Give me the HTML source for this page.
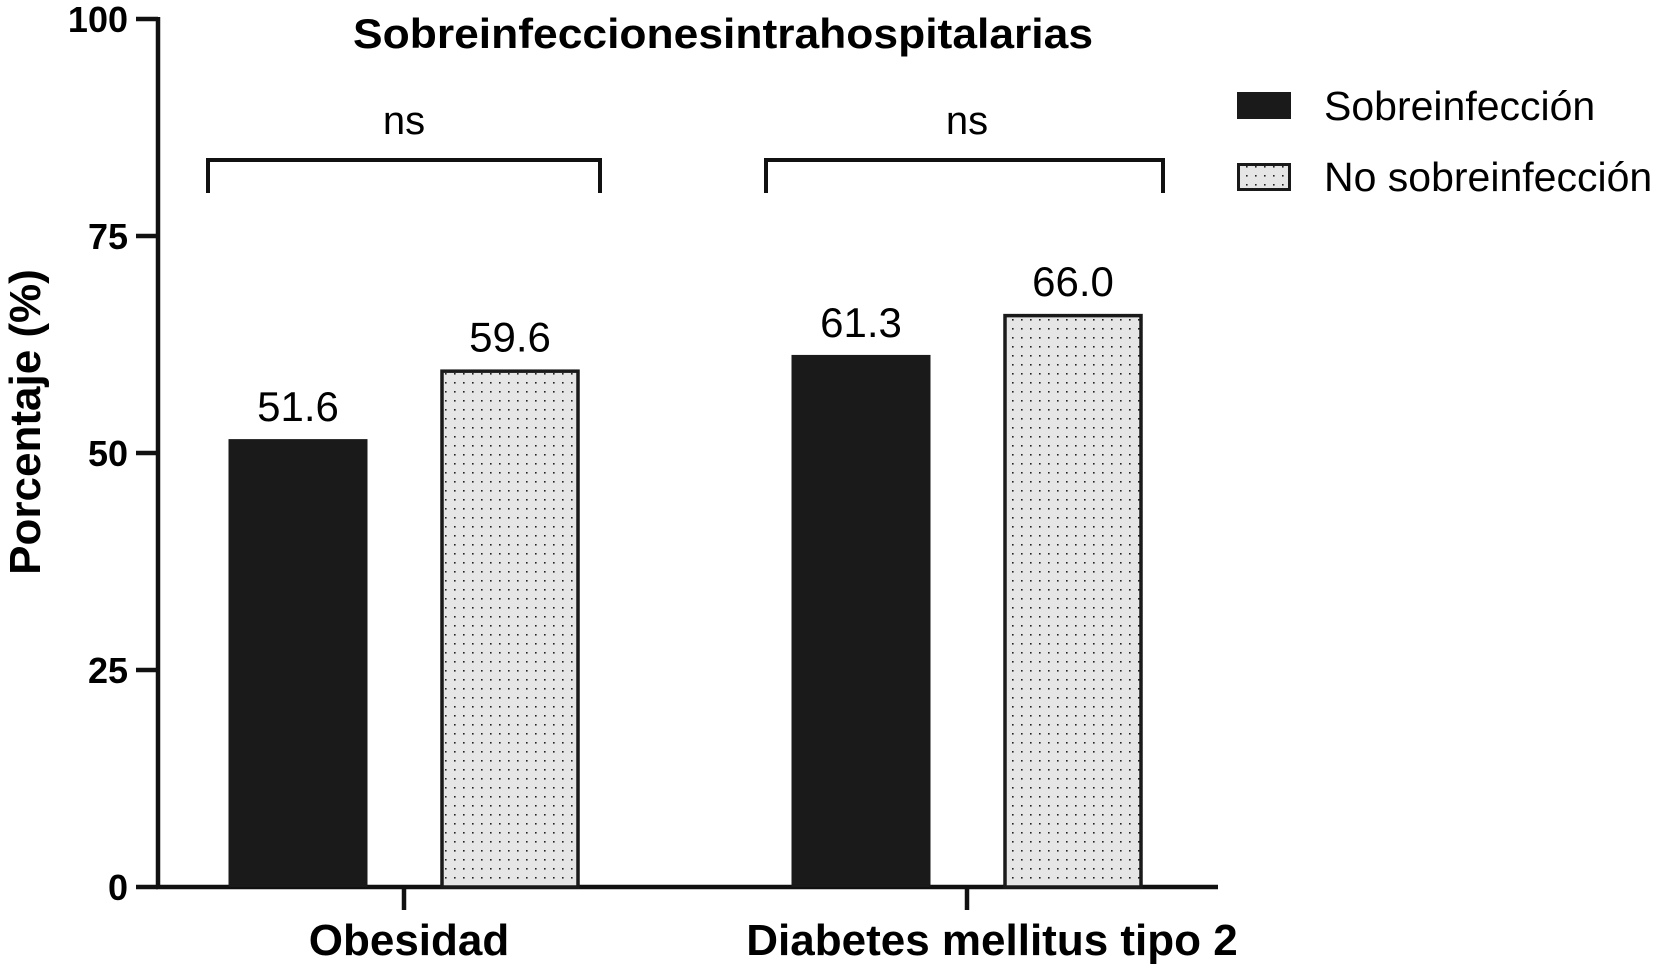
<!DOCTYPE html>
<html><head><meta charset="utf-8"><style>
body{margin:0;background:#fff;}
svg{display:block;font-family:"Liberation Sans",Arial,sans-serif;}
</style></head><body>
<svg id="chart" width="1653" height="964" viewBox="0 0 1653 964">
<defs>
<pattern id="dots" width="9" height="9" patternUnits="userSpaceOnUse">
<rect width="9" height="9" fill="#e6e6e6"/>
<rect x="4" y="4" width="1.6" height="1.6" fill="#222"/>
</pattern>
</defs>
<text x="723" y="48" font-size="42" font-weight="bold" text-anchor="middle" textLength="740" lengthAdjust="spacingAndGlyphs">Sobreinfeccionesintrahospitalarias</text>
<text transform="translate(40,422) rotate(-90)" font-size="44" font-weight="bold" text-anchor="middle">Porcentaje (%)</text>
<g id="axes"></g>
<g id="bars"></g>
<g id="legend">
<rect x="1237" y="92" width="54" height="27" fill="#1a1a1a"/>
<text x="1324" y="120" font-size="41">Sobreinfección</text>
<rect x="1238.5" y="164.5" width="51" height="25" fill="url(#dots)" stroke="#1a1a1a" stroke-width="3"/>
<text x="1324" y="191" font-size="41">No sobreinfección</text>
</g>
</svg>
<script>
const categories = ["Obesidad", "Diabetes mellitus tipo 2"];
const sobreinfeccion = [51.6, 61.3];
const noSobreinfeccion = [59.6, 66.0];
const yTicks = [0, 25, 50, 75, 100];
const sigLabels = ["ns", "ns"];

const NS = "http://www.w3.org/2000/svg";
const x0 = 158, y0 = 887, yTop = 19, xEnd = 1218;
const yScale = v => y0 - (y0 - yTop) * v / 100;
const groupCenter = i => 404 + i * 563;
const labelCenter = i => groupCenter(i) + 5 + i * 20;
function mk(tag, attrs, parent, text){
  const e = document.createElementNS(NS, tag);
  for (const k in attrs) e.setAttribute(k, attrs[k]);
  if (text !== undefined) e.textContent = text;
  parent.appendChild(e);
  return e;
}
const axes = document.getElementById('axes');
const bars = document.getElementById('bars');
let el;
el = mk('line', {x1:x0, y1:yTop-2, x2:x0, y2:y0+2, stroke:'#111', 'stroke-width':4.5}, axes);


el = mk('line', {x1:x0-2, y1:y0, x2:xEnd, y2:y0, stroke:'#111', 'stroke-width':4.5}, axes);


yTicks.forEach(t => {
  const y = yScale(t);
  el = mk('line', {x1:x0-22, y1:y, x2:x0, y2:y, stroke:'#111', 'stroke-width':4.5}, axes);
  
  
  el = mk('text', {x:x0-30, y:y+13, 'font-size':36, 'font-weight':'bold', 'text-anchor':'end'}, axes, String(t));
  
  
});
const barW = 139, off = 106;
categories.forEach((c, i) => {
  const cx = groupCenter(i);
  el = mk('line', {x1:cx, y1:y0, x2:cx, y2:y0+23, stroke:'#111', 'stroke-width':4.5}, axes);
  
  
  el = mk('text', {x:labelCenter(i), y:955, 'font-size':44, 'font-weight':'bold', 'text-anchor':'middle'}, axes, c);
  
  
  const v1 = sobreinfeccion[i], bx1 = cx - off - barW/2;
  el = mk('rect', {x:bx1, y:yScale(v1), width:barW, height:y0 - yScale(v1), fill:'#1a1a1a'}, bars);
  
  
  el = mk('text', {x:cx - off, y:yScale(v1) - 18, 'font-size':42, 'text-anchor':'middle'}, bars, v1.toFixed(1));
  
  
  const v2 = noSobreinfeccion[i], bx2 = cx + off - barW/2;
  el = mk('rect', {x:bx2+1.5, y:yScale(v2)+1.5, width:barW-3, height:y0 - yScale(v2) - 1.5, fill:'url(#dots)', stroke:'#1a1a1a', 'stroke-width':3.5}, bars);
  
  
  el = mk('text', {x:cx + off, y:yScale(v2) - 18, 'font-size':42, 'text-anchor':'middle'}, bars, v2.toFixed(1));
  
  
  const l = cx - 196 - i * 5, r = cx + 196;
  el = mk('path', {d:`M${l},193 L${l},160 L${r},160 L${r},193`, fill:'none', stroke:'#111', 'stroke-width':4}, bars);
  
  
  el = mk('text', {x:cx, y:134, 'font-size':40, 'text-anchor':'middle'}, bars, sigLabels[i]);
  
  
});
</script>
</body></html>
